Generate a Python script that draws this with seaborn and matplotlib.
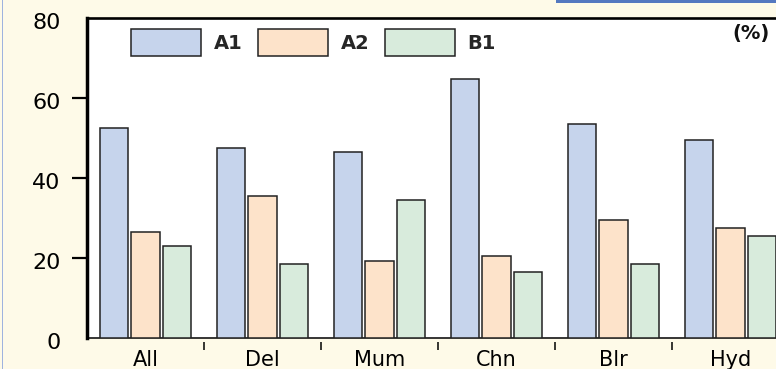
import matplotlib
matplotlib.use("Agg")
import matplotlib.pyplot as plt
import matplotlib.transforms as mtransforms
from matplotlib.patches import Rectangle
from matplotlib.ticker import FixedLocator
import seaborn as sns
import pandas as pd

cities = ["All", "Del", "Mum", "Chn", "Blr", "Hyd"]
series = ["A1", "A2", "B1"]
a1 = [52.5, 47.5, 46.5, 64.7, 53.5, 49.5]
a2 = [26.5, 35.5, 19.3, 20.5, 29.5, 27.5]
b1 = [23.0, 18.4, 34.5, 16.4, 18.4, 25.5]
yticks = [0, 20, 40, 60, 80]
colors = ["#C6D4EC", "#FDE3CA", "#D8EBDC"]

rows = []
for s, vals in zip(series, [a1, a2, b1]):
    for c, v in zip(cities, vals):
        rows.append({"city": c, "series": s, "value": v})
df = pd.DataFrame(rows)

sns.set_style("white")
plt.rcParams["font.family"] = ["DejaVu Sans"]

W, H = 776, 369
fig = plt.figure(figsize=(W / 100, H / 100), dpi=100)
bg = "#FEFAE8"
fig.patch.set_facecolor(bg)

ax = fig.add_axes([87 / W, 31 / H, 702 / W, 320 / H])
ax.set_facecolor("white")

sns.barplot(data=df, x="city", y="value", hue="series", order=cities,
            hue_order=series, palette=colors, saturation=1, width=0.8, gap=0.1,
            edgecolor="#222222", linewidth=1.1, ax=ax, zorder=2)

ax.set_xlim(-0.5, len(cities) - 0.5)
ax.set_ylim(yticks[0], yticks[-1])
ax.set_xlabel("")
ax.set_ylabel("")

# y axis
ax.set_yticks(yticks)
ax.set_yticklabels([str(t) for t in yticks])
ax.tick_params(axis="y", left=True, length=11, width=1.6, color="black",
               pad=8, labelsize=16, labelcolor="black")
yt = ax.yaxis.get_major_ticks()
yt[0].tick1line.set_visible(False)
yt[-1].tick1line.set_visible(False)
off = mtransforms.ScaledTranslation(0, -3 / 100, fig.dpi_scale_trans)
for lab in ax.get_yticklabels():
    lab.set_transform(lab.get_transform() + off)

# x axis
ax.spines["bottom"].set_position(("outward", 3))
ax.spines["bottom"].set_color("none")
ax.tick_params(axis="x", which="major", bottom=True, length=0, pad=6,
               labelsize=15, labelcolor="black")
ax.xaxis.set_minor_locator(FixedLocator([i + 0.5 for i in range(len(cities) - 1)]))
ax.tick_params(axis="x", which="minor", bottom=True, length=6, width=1.1,
               color="black")
ax.axhline(0, color="black", lw=1.1, zorder=1, clip_on=False)

for side in ["left", "top"]:
    ax.spines[side].set_visible(True)
    ax.spines[side].set_color("black")
ax.spines["left"].set_linewidth(2.5)
ax.spines["top"].set_linewidth(1.9)
ax.spines["right"].set_visible(False)

# legend
handles, labels = ax.get_legend_handles_labels()
leg = ax.legend(handles, labels, loc="upper left",
                bbox_to_anchor=((131 - 87) / 702, (338 - 29) / 320),
                ncol=3, frameon=False, borderpad=0, borderaxespad=0,
                handlelength=3.6, handleheight=1.75, handletextpad=0.65,
                columnspacing=0.8, prop={"size": 14, "weight": "bold"})

ax.text(0.973, 0.953, "(%)", transform=ax.transAxes, ha="right", va="center",
        fontsize=14, fontweight="bold", color="#111111")

# page decorations
fig.add_artist(Rectangle((1.5 / W, 0), 2 / W, 1, transform=fig.transFigure,
                         facecolor="#9FB3DF", edgecolor="none"))
fig.add_artist(Rectangle((556 / W, 1 - 2.5 / H), 1, 3 / H,
                         transform=fig.transFigure,
                         facecolor="#5478C0", edgecolor="none"))

fig.savefig("out.png", dpi=100, facecolor=bg)
